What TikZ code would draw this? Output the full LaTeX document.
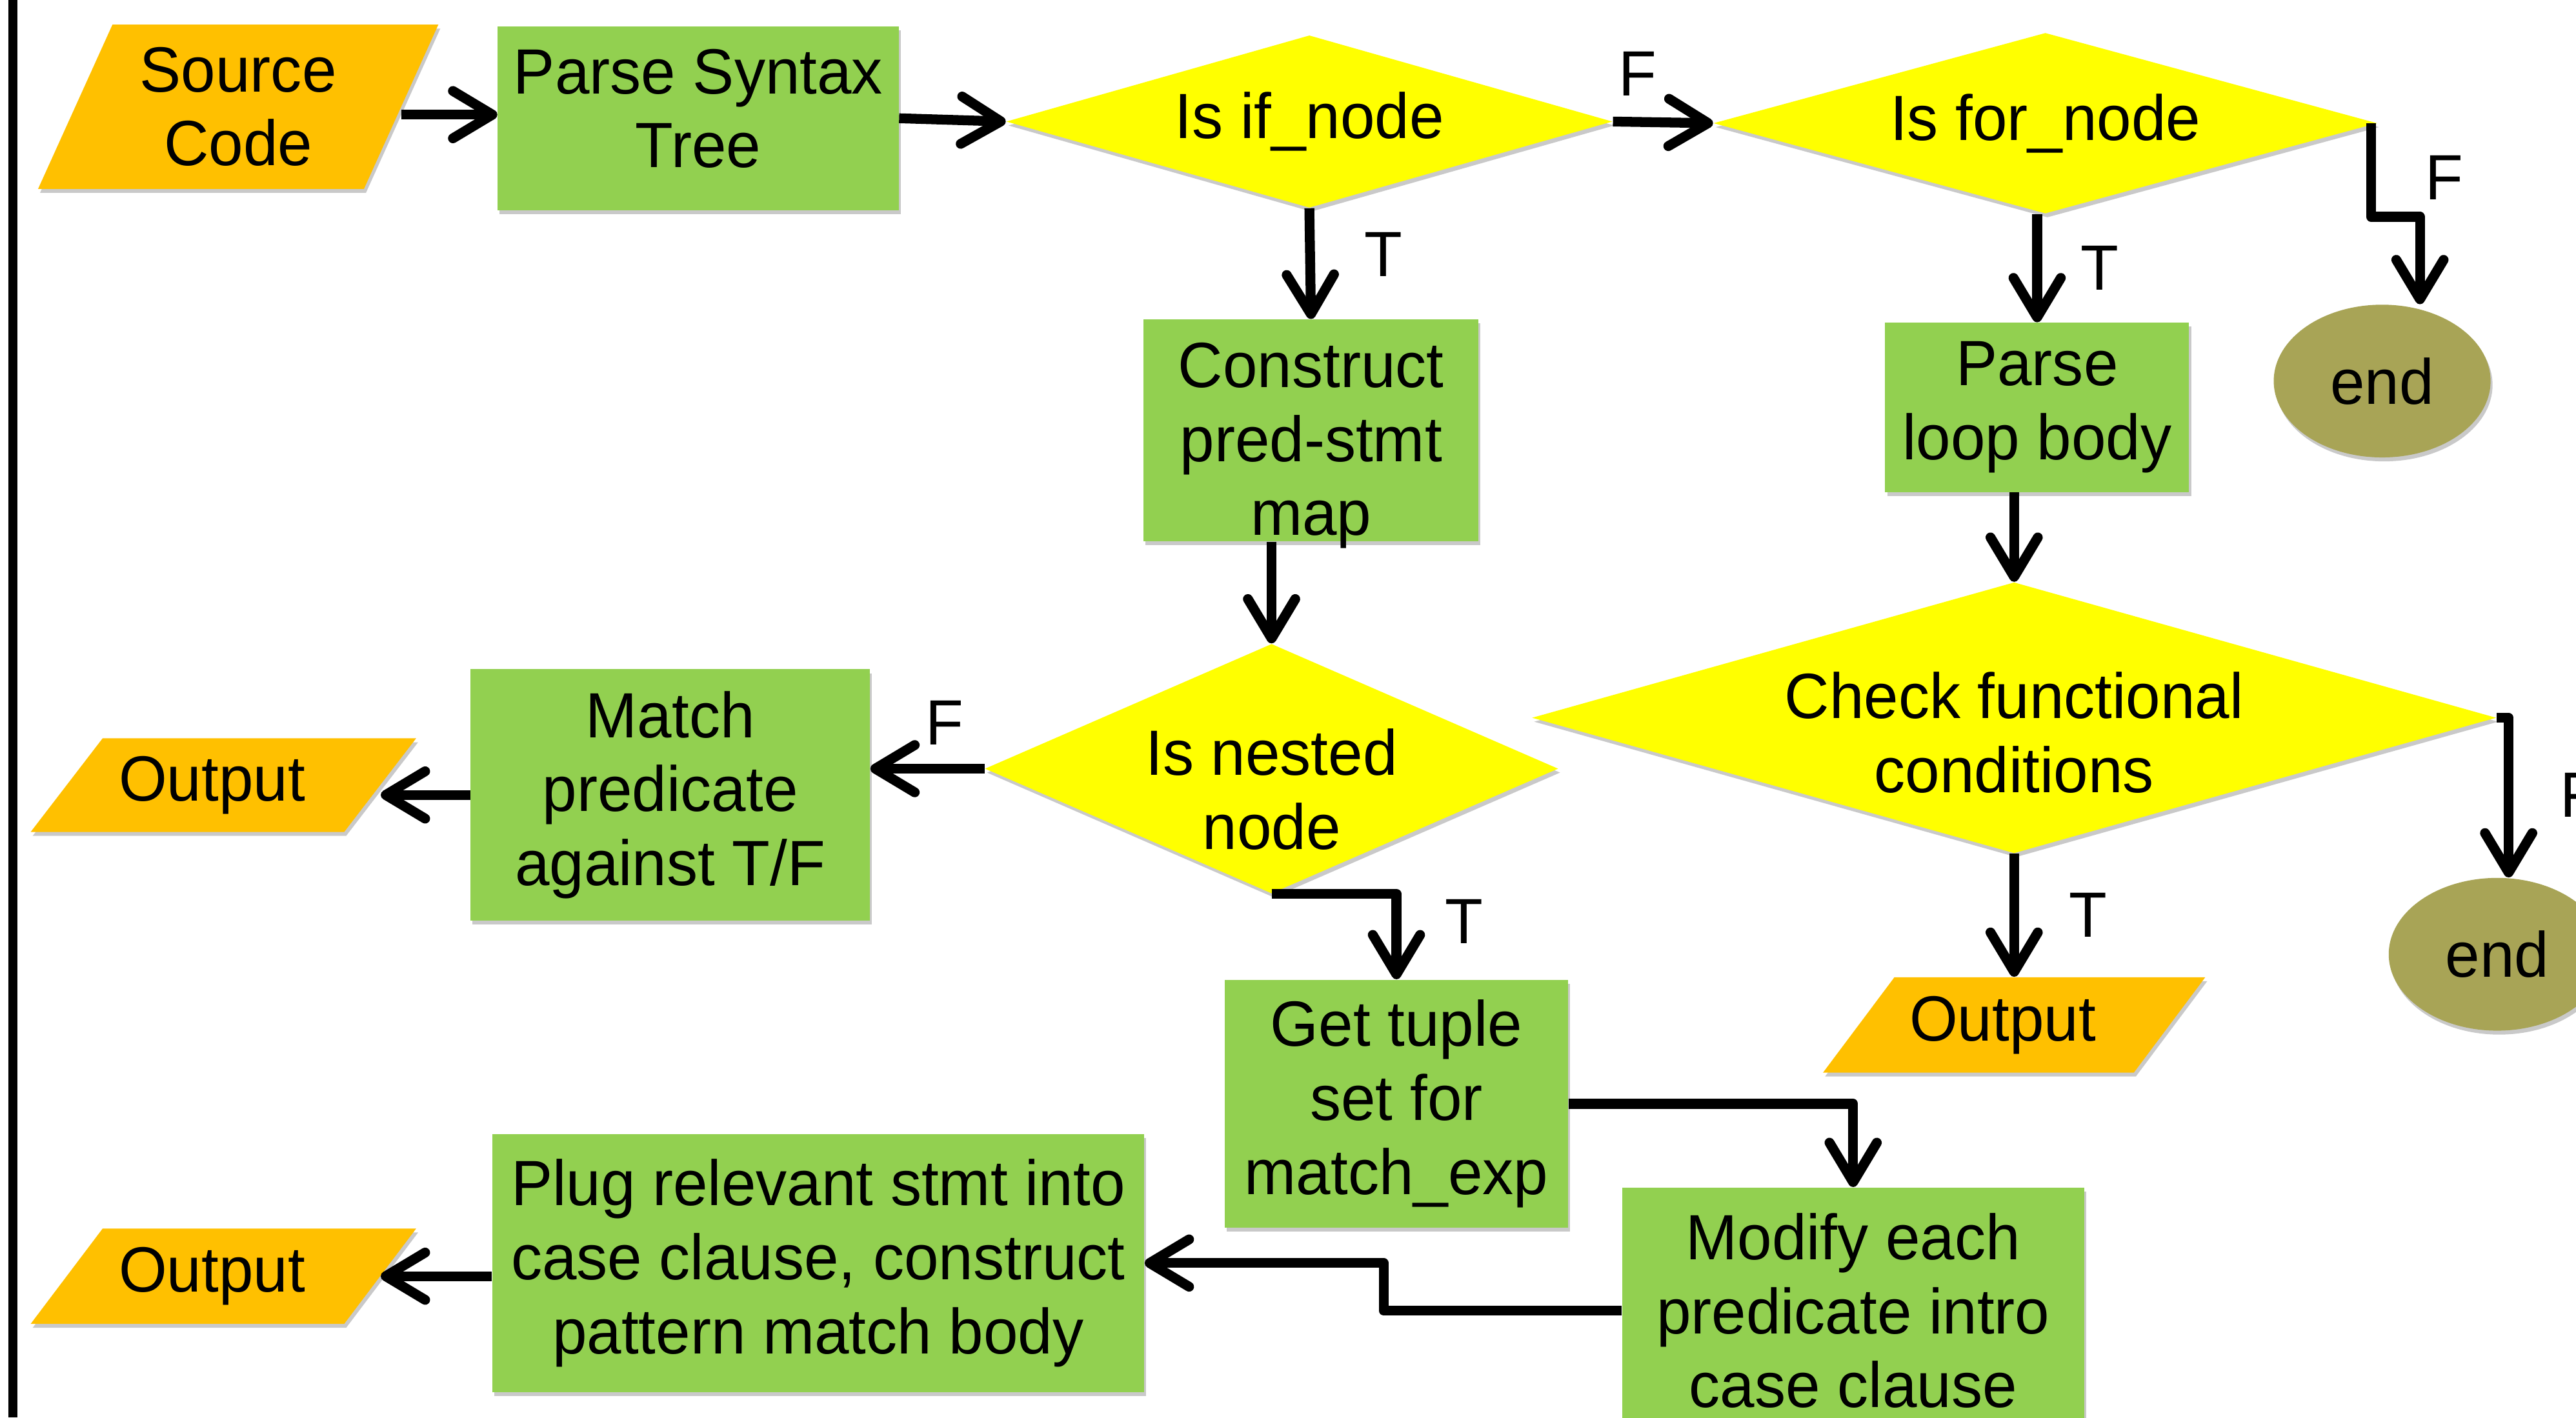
\documentclass[tikz,border=0pt]{standalone}
\usepackage{fontspec}
\setmainfont{Liberation Sans}[FakeStretch=0.97]
\usetikzlibrary{shapes.geometric,arrows.meta,shadows}
\definecolor{boxgreen}{HTML}{92D050}
\definecolor{ioorange}{HTML}{FFC000}
\definecolor{decyellow}{HTML}{FFFF00}
\definecolor{endolive}{HTML}{A8A456}
% text block whose first baseline sits #1 above the node centre
\newcommand{\placetext}[2]{\raisebox{#1}[0pt][0pt]{\begin{tabular}[t]{@{}c@{}}#2\end{tabular}}}
\tikzset{
  softshadow/.style={drop shadow={shadow xshift=0.03cm, shadow yshift=-0.06cm, opacity=0.3, fill=black!70}},
  process/.style={rectangle, fill=boxgreen, align=center, inner sep=0pt, softshadow},
  decision/.style={diamond, fill=decyellow, align=center, inner sep=0pt, softshadow},
  inout/.style={trapezium, trapezium stretches=true, fill=ioorange, align=center, inner sep=0pt, softshadow},
  endnode/.style={ellipse, fill=endolive, inner sep=0pt, softshadow},
  tflabel/.style={inner sep=0pt},
  conn/.style={line width=0.15cm, line join=round, -{Straight Barb[length=0.6cm, width=0.72cm, round]}}
}
\begin{document}
\begin{tikzpicture}[x=0.025cm, y=-0.025cm, font=\fontsize{27.7}{32}\selectfont]
\def\pxu{0.025cm}

% Frame and left rule
\useasboundingbox (0,0) rectangle (1568,863);
\clip (0,0) rectangle (1568,863);
\draw[line width=0.14cm] (8,0) -- (8,863);

% Top row
\node[inout, trapezium left angle=64, trapezium right angle=116, minimum width=244*\pxu, minimum height=100*\pxu] (src) at (145,65) {Source\\Code};
\node[process, minimum width=244*\pxu, minimum height=112*\pxu] (parse) at (425,72) {\placetext{0.375cm}{Parse Syntax\\Tree}};
\node[decision, aspect=3.5, minimum width=369*\pxu, minimum height=105*\pxu] (ifn) at (797,74) {Is if\_node};
\node[decision, aspect=3.67, minimum width=404*\pxu, minimum height=110*\pxu] (forn) at (1245,75) {Is for\_node};
\node[endnode, minimum width=132*\pxu, minimum height=93*\pxu] (endA) at (1450,232) {end};

% Second row
\node[process, minimum width=204*\pxu, minimum height=135*\pxu] (cons) at (798,262) {\placetext{0.65cm}{Construct\\pred-stmt\\map}};
\node[process, minimum width=185*\pxu, minimum height=103*\pxu] (loop) at (1240,248) {Parse\\loop body};

% Third row
\node[inout, trapezium left angle=50, trapezium right angle=130, minimum width=235*\pxu, minimum height=57*\pxu] (outA) at (136,478) {\hspace*{-0.35cm}Output};
\node[process, minimum width=243*\pxu, minimum height=153*\pxu] (match) at (408,484) {Match\\predicate\\against T/F};
\node[decision, aspect=2.3, minimum width=349*\pxu, minimum height=152*\pxu] (nest) at (774,468) {\placetext{-0.1cm}{Is nested\\node}};
\node[decision, aspect=3.56, minimum width=587*\pxu, minimum height=165*\pxu] (check) at (1226,437) {\placetext{-0.01cm}{Check functional\\conditions}};
\node[endnode, minimum width=132*\pxu, minimum height=93*\pxu] (endB) at (1520,581) {end};

% Bottom rows
\node[process, minimum width=209*\pxu, minimum height=151*\pxu] (tuple) at (850,672) {Get tuple\\set for\\match\_exp};
\node[inout, trapezium left angle=50, trapezium right angle=130, minimum width=233*\pxu, minimum height=58*\pxu] (outB) at (1226,624) {\hspace*{-0.35cm}Output};
\node[process, minimum width=281*\pxu, minimum height=150*\pxu] (modify) at (1128,798) {Modify each\\predicate intro\\case clause};
\node[process, minimum width=397*\pxu, minimum height=157*\pxu] (plug) at (498,769) {Plug relevant stmt into\\case clause, construct\\pattern match body};
\node[inout, trapezium left angle=50, trapezium right angle=130, minimum width=235*\pxu, minimum height=58*\pxu] (outC) at (136,777) {\hspace*{-0.35cm}Output};

% Bend points
\coordinate (kA) at (1473,132);
\coordinate (kB) at (1527,437);

% Connectors
\draw[conn] ([yshift=-0.12cm]src.east) -- ([yshift=-0.12cm]src.east -| parse.west);
\draw[conn] (parse.east) -- (ifn.west);
\draw[conn] (ifn.east) -- (forn.west);
\draw[conn] (ifn.south) -- (cons.north);
\draw[conn] ([xshift=-0.1cm]forn.east) |- (kA) -- (kA |- endA.north);
\draw[conn] (forn.south -| loop.north) -- (loop.north);
\draw[conn] (loop.south -| check.north) -- (check.north);
\draw[conn] (check.east) -- (kB) -- (kB |- endB.north);
\draw[conn] (check.south) -- (check.south |- outB.north);
\draw[conn] (cons.south -| nest.north) -- (nest.north);
\draw[conn] (nest.west) -- (nest.west -| match.east);
\draw[conn] (match.west) -- (match.west -| outA.east);
\draw[conn] (nest.south) -| (tuple.north);
\draw[conn] (tuple.east) -| (modify.north);
\draw[conn] (modify.west) -- ++(-145,0) |- (plug.east);
\draw[conn] (plug.west |- outC.east) -- (outC.east);

% Branch labels
\node[tflabel] (fA) at (997,45) {F};
\node[tflabel] (tA) at (842,155) {T};
\node[tflabel] (fB) at (1488,108) {F};
\node[tflabel] (tB) at (1278,163) {T};
\node[tflabel] (fC) at (575,440) {F};
\node[tflabel] (tC) at (891,561) {T};
\node[tflabel] (tD) at (1271,557) {T};
\node[tflabel] (fD) at (1570,484) {F};
\end{tikzpicture}
\end{document}
